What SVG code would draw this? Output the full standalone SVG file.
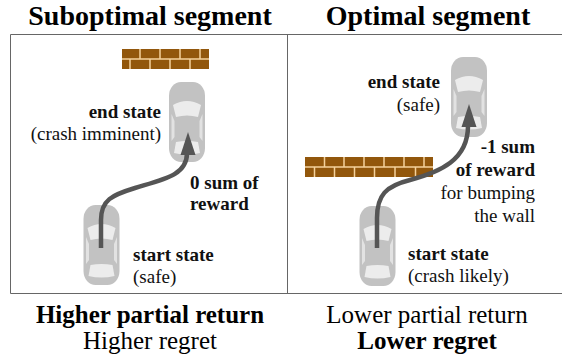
<svg xmlns="http://www.w3.org/2000/svg" width="562" height="356" viewBox="0 0 562 356">
<defs>
<style>
.title{font-family:'Liberation Serif',Tinos,'Times New Roman',Times,'Noto Serif','DejaVu Serif',serif;font-size:28px;font-weight:bold;text-anchor:middle;fill:#000}
.lbl{font-family:'Liberation Serif',Tinos,'Times New Roman',Times,'Noto Serif','DejaVu Serif',serif;font-size:19px;fill:#111}
.b{font-weight:bold}
.end{text-anchor:end}
.sum{font-family:'Liberation Serif',Tinos,'Times New Roman',Times,'Noto Serif','DejaVu Serif',serif;font-size:25px;text-anchor:middle;fill:#000}
.frame{stroke:#666;stroke-width:1;fill:none}
.brick{fill:#92570c}
.mortar{stroke:#f5d29c;stroke-width:1.5}
.body{fill:#c2c2c2}
.glass{fill:#ececec}
.side{fill:#e2e2e2}
.trail{fill:none;stroke:#555;stroke-width:4.5}
.head{fill:#555}
</style>
<g id="car">
<rect class="body" x="-18" y="-40" width="36" height="80" rx="12" ry="14"/>
<path class="glass" d="M-14,-17 Q0,-25 14,-17 L11,-5 Q0,-8 -11,-5 Z"/>
<path class="glass" d="M-11,20 Q0,18 11,20 L13,31 Q0,34 -13,31 Z"/>
<path class="side" d="M-15.5,-8 L-12.5,-1 L-12.5,15 L-15.5,19 Z"/>
<path class="side" d="M15.5,-8 L12.5,-1 L12.5,15 L15.5,19 Z"/>
</g>
</defs>
<rect width="562" height="356" fill="#fff"/>

<g id="frame">
<path class="frame" d="M562,34.5 H10.5 V293.5 H562 M287.5,34.5 V293.5"/>
</g>

<text class="title" x="150" y="25">Suboptimal segment</text>
<text class="title" x="428" y="25">Optimal segment</text>

<g id="wall-left">
<rect class="brick" x="122" y="49" width="87" height="20"/>
<path class="mortar" d="M122,59 H209 M140,49 V59 M160,49 V59 M180,49 V59 M200,49 V59 M130,59 V69 M150,59 V69 M170,59 V69 M190,59 V69"/>
</g>
<g id="wall-right">
<rect class="brick" x="305" y="157" width="128" height="20"/>
<path class="mortar" d="M305,167 H433 M324.5,157 V167 M344,157 V167 M364,157 V167 M384,157 V167 M404,157 V167 M424,157 V167 M314.5,167 V177 M334.5,167 V177 M354.5,167 V177 M374.5,167 V177 M395,167 V177 M415.5,167 V177"/>
</g>

<g id="left-start">
<use href="#car" transform="translate(101.5,245)"/>
<text class="lbl b" x="133" y="261">start state</text>
<text class="lbl" x="133" y="283">(safe)</text>
</g>
<g id="left-end">
<use href="#car" transform="translate(187,122)"/>
<text class="lbl b end" x="161" y="118">end state</text>
<text class="lbl end" x="161" y="140">(crash imminent)</text>
</g>
<g id="right-start">
<use href="#car" transform="translate(377.5,246)"/>
<text class="lbl b" x="408" y="260">start state</text>
<text class="lbl" x="408" y="282">(crash likely)</text>
</g>
<g id="right-end">
<use href="#car" transform="translate(469,97)"/>
<text class="lbl b end" x="440" y="88">end state</text>
<text class="lbl end" x="440" y="111">(safe)</text>
</g>

<g id="connectors">
<path class="trail" d="M101,248 L101,220 C101,200 112,195 135,188 C165,179 187,175 187,153"/>
<polygon class="head" points="188,132 180.5,155 195.5,155"/>
<path class="trail" d="M377,248 L377,218 C377,195 386,186 410,180 C440,172 468,160 468,126"/>
<polygon class="head" points="469,104 461.5,127 476.5,127"/>
<text class="lbl b" x="190" y="189">0 sum of</text>
<text class="lbl b" x="190" y="210">reward</text>
<text class="lbl b end" x="535" y="153">-1 sum</text>
<text class="lbl b end" x="535" y="176">of reward</text>
<text class="lbl end" x="535" y="199">for bumping</text>
<text class="lbl end" x="535" y="222">the wall</text>
</g>

<text class="sum" x="150" y="323" font-weight="bold">Higher partial return</text>
<text class="sum" x="150" y="349">Higher regret</text>
<text class="sum" x="427" y="323">Lower partial return</text>
<text class="sum" x="427" y="349" font-weight="bold">Lower regret</text>
</svg>
